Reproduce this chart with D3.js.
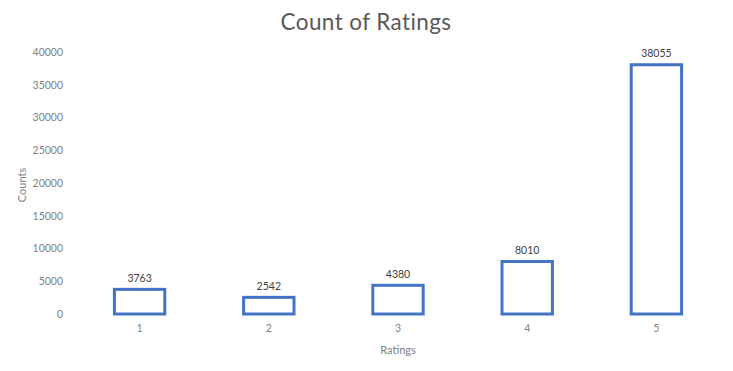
<!DOCTYPE html>
<html>
<head>
<meta charset="utf-8">
<script src="https://cdn.jsdelivr.net/npm/d3@7"></script>
<style>
  html, body { margin: 0; padding: 0; background: #fff; }
  svg { display: block; font-family: Lato, "Open Sans", sans-serif; }
</style>
</head>
<body>
<svg id="chart" width="733" height="371"></svg>
<script>
// Rating categories and their counts
const ratings = ["1", "2", "3", "4", "5"];
const counts = [3763, 2542, 4380, 8010, 38055];
const yTicks = [0, 5000, 10000, 15000, 20000, 25000, 30000, 35000, 40000];

const svg = d3.select("#chart");
const W = 733, H = 371;
const plot = { left: 75, right: 721, top: 52, bottom: 314 };

const x = d3.scaleBand().domain(ratings).range([plot.left, plot.right]).paddingInner(0.61).paddingOuter(0.305);
const y = d3.scaleLinear().domain([0, 40000]).range([plot.bottom, plot.top]);

svg.append("rect").attr("width", W).attr("height", H).attr("fill", "#fff");

// Title
svg.append("text")
  .attr("x", 366).attr("y", 30)
  .attr("text-anchor", "middle")
  .attr("font-size", 22.5)
  .attr("letter-spacing", 0.4)
  .attr("fill", "#595959")
  .text("Count of Ratings");

// Y axis (labels only)
const yAxis = d3.axisLeft(y).tickValues(yTicks).tickSize(0).tickPadding(0).tickFormat(d3.format("d"));
const gy = svg.append("g").attr("transform", `translate(63,0)`).call(yAxis);
gy.select(".domain").remove();
gy.selectAll("text").attr("font-size", 10.5).attr("fill", "#7f7f7f").attr("font-family", "Lato, 'Open Sans', sans-serif");

// X axis (labels only)
const xAxis = d3.axisBottom(x).tickSize(0).tickPadding(0);
const gx = svg.append("g").attr("transform", `translate(0,${plot.bottom + 11})`).call(xAxis);
gx.select(".domain").remove();
gx.selectAll("text").attr("font-size", 10.5).attr("fill", "#7f7f7f").attr("font-family", "Lato, 'Open Sans', sans-serif");

// Bars: outlined, no fill
svg.append("g").selectAll("rect")
  .data(ratings.map((r, i) => ({ r, v: counts[i] })))
  .join("rect")
  .attr("x", d => x(d.r))
  .attr("y", d => y(d.v))
  .attr("width", x.bandwidth())
  .attr("height", d => y(0) - y(d.v))
  .attr("fill", "#fff")
  .attr("stroke", "#4472C4")
  .attr("stroke-width", 3);

// Value labels
svg.append("g").selectAll("text")
  .data(ratings.map((r, i) => ({ r, v: counts[i] })))
  .join("text")
  .attr("x", d => x(d.r) + x.bandwidth() / 2)
  .attr("y", d => y(d.v) - 7.5)
  .attr("text-anchor", "middle")
  .attr("font-size", 10.5)
  .attr("fill", "#404040")
  .text(d => d.v);

// Axis titles
svg.append("text")
  .attr("transform", `translate(26,${(plot.top + plot.bottom) / 2 + 2}) rotate(-90)`)
  .attr("text-anchor", "middle")
  .attr("font-size", 11)
  .attr("fill", "#7f7f7f")
  .text("Counts");

svg.append("text")
  .attr("x", 398).attr("y", 354)
  .attr("text-anchor", "middle")
  .attr("font-size", 11)
  .attr("fill", "#7f7f7f")
  .text("Ratings");
</script>
</body>
</html>
